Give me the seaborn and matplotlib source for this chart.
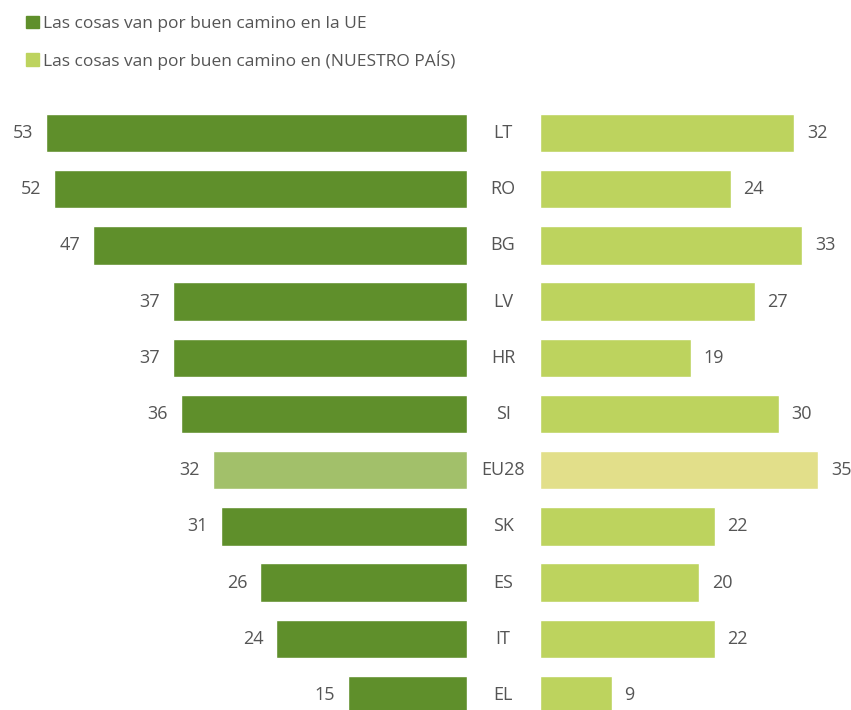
import matplotlib
matplotlib.use("Agg")
import numpy as np
import pandas as pd
import matplotlib.pyplot as plt
import seaborn as sns
from matplotlib.patches import Patch

sns.set_style("white")
plt.rcParams['font.family'] = ['Open Sans', 'DejaVu Sans']

# data
countries = ['LT', 'RO', 'BG', 'LV', 'HR', 'SI', 'EU28', 'SK', 'ES', 'IT', 'EL']
eu_good = [53, 52, 47, 37, 37, 36, 32, 31, 26, 24, 15]
country_good = [32, 24, 33, 27, 19, 30, 35, 22, 20, 22, 9]
legend_labels = ['Las cosas van por buen camino en la UE',
                 'Las cosas van por buen camino en (NUESTRO PAÍS)']

dark = '#5f8f2b'
light = '#bdd35e'
eu_dark = '#a2c06a'
eu_light = '#e2df8a'
txt = '#555555'

df = pd.DataFrame({'country': countries, 'eu': eu_good, 'nat': country_good})
left_cols = [eu_dark if c == 'EU28' else dark for c in countries]
right_cols = [eu_light if c == 'EU28' else light for c in countries]

W, H = 851, 710
fig = plt.figure(figsize=(W / 100, H / 100), dpi=100)

px_per_unit = 7.95
top_px, bot_px = 80, 710
row0, step = 133, 56.2
ylim = (10 + (bot_px - (row0 + 10 * step)) / step, -(row0 - top_px) / step)

ax_l = fig.add_axes([0, 0, 467 / W, (H - top_px) / H])
ax_r = fig.add_axes([540 / W, 0, (W - 540) / W, (H - top_px) / H])

sns.barplot(data=df, x='eu', y='country', hue='country', palette=left_cols,
            legend=False, ax=ax_l, orient='h', width=0.68, saturation=1)
sns.barplot(data=df, x='nat', y='country', hue='country', palette=right_cols,
            legend=False, ax=ax_r, orient='h', width=0.68, saturation=1)

ax_l.set_xlim(467 / px_per_unit, 0)
ax_r.set_xlim(0, (W - 540) / px_per_unit)
for ax in (ax_l, ax_r):
    ax.set_ylim(*ylim)
    ax.set_xlabel('')
    ax.set_ylabel('')
    ax.set_xticks([])
    ax.set_yticks([])
    sns.despine(ax=ax, left=True, bottom=True)
    ax.patch.set_alpha(0)

for i, (c, a, b) in enumerate(zip(countries, eu_good, country_good)):
    ax_l.text(a + 1.6, i, str(a), ha='right', va='center', fontsize=13, color=txt)
    ax_r.text(b + 1.6, i, str(b), ha='left', va='center', fontsize=13, color=txt)
    ax_l.text(-36 / px_per_unit, i, c, ha='center', va='center', fontsize=13,
              color=txt, clip_on=False)

handles = [Patch(color=dark), Patch(color=light)]
fig.legend(handles, legend_labels, loc='upper left', bbox_to_anchor=(0.012, 1.0),
           frameon=False, fontsize=12.5, handlelength=0.75, handleheight=0.75,
           handletextpad=0.25, labelspacing=1.05, labelcolor=txt)

fig.savefig('out.png', dpi=100, facecolor='white')
